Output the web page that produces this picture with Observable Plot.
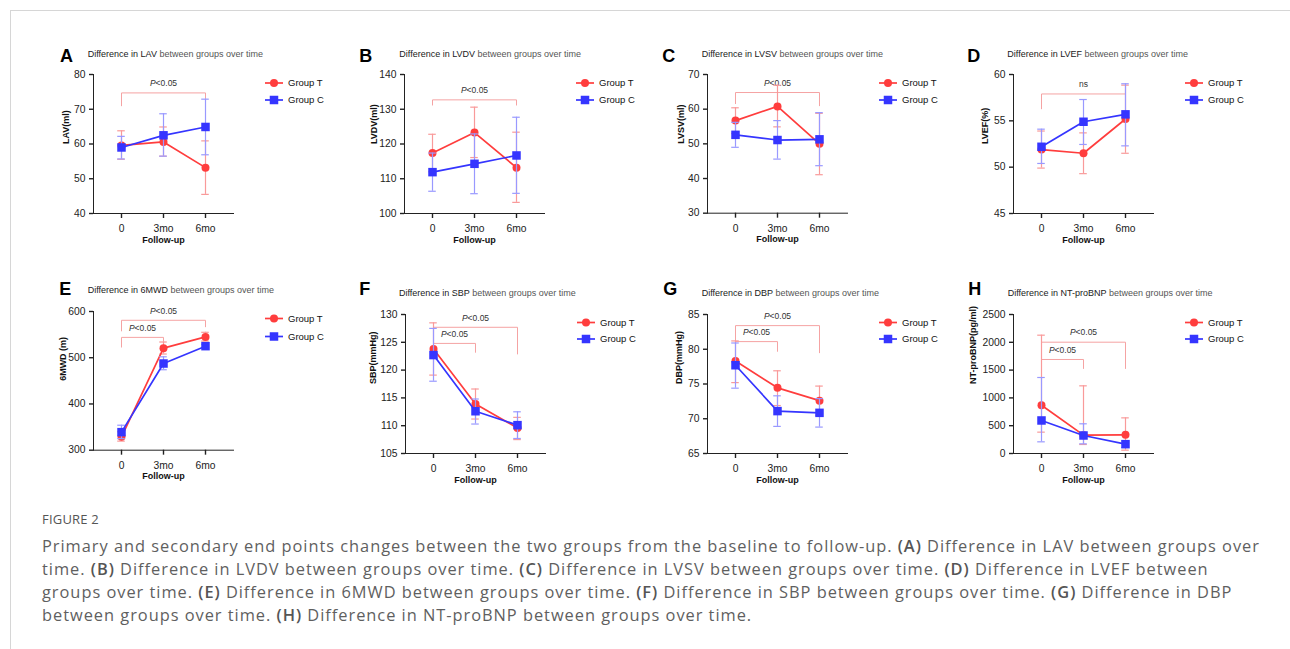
<!DOCTYPE html>
<html><head><meta charset="utf-8">
<script src="https://cdn.jsdelivr.net/npm/d3@7"></script>
<script src="https://cdn.jsdelivr.net/npm/@observablehq/plot@0.6"></script>
<style>
html,body{margin:0;padding:0;background:#fff;}
body{width:1290px;height:649px;overflow:hidden;position:relative;font-family:"Liberation Sans",Arial,sans-serif;}
#frame{position:absolute;left:10px;top:10px;width:1400px;height:800px;border:1px solid #d6d6d6;}
.abs{position:absolute;white-space:nowrap;line-height:1;}
.letter{font-weight:bold;font-size:18px;color:#000;}
.sub{font-size:9px;color:#555;}
.sub span{color:#1a1a1a;}
.panel{position:absolute;}
.panel svg{overflow:visible;}
.legend{position:absolute;}
#fighead{font-family:"Open Sans",sans-serif;font-size:13px;color:#555;letter-spacing:0.2px;}
#caption{font-family:"Open Sans",sans-serif;font-size:16.4px;color:#5f5f5f;line-height:23px;}
#caption b{font-weight:600;color:#555;}
#caption .ln{display:inline-block;}
</style></head>
<body>
<div id="frame"></div>
<div id="root"></div>
<div id="fighead" class="abs" style="left:42px;top:513px;">FIGURE 2</div>
<div id="caption" class="abs" style="left:42px;top:534px;">
<span class="ln">Primary and secondary end points changes between the two groups from the baseline to follow-up. <b>(A)</b> Difference in LAV between groups over</span><br>
<span class="ln">time. <b>(B)</b> Difference in LVDV between groups over time. <b>(C)</b> Difference in LVSV between groups over time. <b>(D)</b> Difference in LVEF between</span><br>
<span class="ln">groups over time. <b>(E)</b> Difference in 6MWD between groups over time. <b>(F)</b> Difference in SBP between groups over time. <b>(G)</b> Difference in DBP</span><br>
<span class="ln">between groups over time. <b>(H)</b> Difference in NT-proBNP between groups over time.</span>
</div>
<script>
// ---------- DATA ----------
const categories = ["0", "3mo", "6mo"];
const groups = ["Group T", "Group C"];
const xLabel = "Follow-up";
// each row: [mean, lower error, upper error] at 0, 3mo, 6mo
// A: LAV
const lavT = [[59.6, 55.6, 63.8], [60.6, 56.5, 64.9], [53.2, 45.5, 60.9]];
const lavC = [[59.0, 55.7, 62.2], [62.5, 56.5, 68.7], [64.9, 56.9, 72.9]];
const lavTicks = [40, 50, 60, 70, 80];
// bracket: [from, to, level, left end, right end, label]
const lavBr = [[0, 2, 74.7, 71.0, 73.1, "P<0.05"]];
// B: LVDV
const lvdvT = [[117.4, 112.0, 122.8], [123.3, 116.1, 130.6], [113.2, 103.2, 123.4]];
const lvdvC = [[111.9, 106.4, 117.4], [114.3, 105.7, 122.9], [116.7, 105.8, 127.7]];
const lvdvTicks = [100, 110, 120, 130, 140];
const lvdvBr = [[0, 2, 132.7, 131.2, 131.2, "P<0.05"]];
// C: LVSV
const lvsvT = [[56.7, 53.0, 60.4], [60.8, 54.9, 66.9], [50.0, 41.1, 58.8]];
const lvsvC = [[52.6, 49.0, 56.2], [51.1, 45.6, 56.7], [51.3, 43.7, 59.0]];
const lvsvTicks = [30, 40, 50, 60, 70];
const lvsvBr = [[0, 2, 64.8, 61.6, 61.0, "P<0.05"]];
// D: LVEF
const lvefT = [[51.9, 49.9, 53.9], [51.5, 49.3, 53.7], [55.2, 51.5, 58.85]];
const lvefC = [[52.2, 50.4, 54.1], [54.9, 52.45, 57.3], [55.7, 52.3, 59.0]];
const lvefTicks = [45, 50, 55, 60];
const lvefBr = [[0, 2, 57.9, 56.3, 57.4, "ns"]];
// E: 6MWD
const mwdT = [[329, 319.6, 340], [520.7, 508, 534], [545, 536, 555]];
const mwdC = [[339, 325, 354], [487.5, 474, 502], [525, 521, 529]];
const mwdTicks = [300, 400, 500, 600];
const mwdBr = [[0, 2, 581, 558, 567, "P<0.05"], [0, 1, 544, 523, 536, "P<0.05"]];
// F: SBP
const sbpT = [[123.8, 119.1, 128.5], [113.9, 111.2, 116.6], [109.6, 107.5, 111.5]];
const sbpC = [[122.7, 118.0, 127.5], [112.6, 110.3, 114.8], [110.1, 107.7, 112.5]];
const sbpTicks = [105, 110, 115, 120, 125, 130];
const sbpBr = [[0, 2, 127.7, 124.8, 122.9, "P<0.05"], [0, 1, 124.8, 124.3, 123.2, "P<0.05"]];
// G: DBP
const dbpT = [[78.3, 75.2, 81.2], [74.45, 71.9, 76.9], [72.6, 70.5, 74.7]];
const dbpC = [[77.7, 74.4, 80.9], [71.1, 68.9, 73.3], [70.85, 68.8, 72.9]];
const dbpTicks = [65, 70, 75, 80, 85];
const dbpBr = [[0, 2, 83.4, 81.1, 79.5, "P<0.05"], [0, 1, 81.1, 80.5, 79.7, "P<0.05"]];
// H: NT-proBNP
const bnpT = [[869, 384, 2128], [330, 162, 1217], [336, 60, 641]];
const bnpC = [[594, 210, 1367], [324, 174, 534], [168, 108, 228]];
const bnpTicks = [0, 500, 1000, 1500, 2000, 2500];
const bnpBr = [[0, 2, 2002, 1900, 1529, "P<0.05"], [0, 1, 1691, 1600, 1529, "P<0.05"]];

// ---------- LAYOUT / STYLE ----------
const RED = "#ff3d3d", BLUE = "#3535ff";
const RED_ERR = "#f99a9a", BLUE_ERR = "#9999ff", BR_COL = "#f5a3a3";
const panels = [
  {letter:"A", m:"LAV", yl:"LAV(ml)", T:lavT, C:lavC, ticks:lavTicks, br:lavBr, x0:93, y0:74.3, h:139, ylo:27, lx:60, lb:62, sx:87.7, sb:57.3, lg:[9,26]},
  {letter:"B", m:"LVDV", yl:"LVDV(ml)", T:lvdvT, C:lvdvC, ticks:lvdvTicks, br:lvdvBr, x0:404, y0:74.3, h:139, ylo:30, lx:359.3, lb:62, sx:399.3, sb:57.3, lg:[9,26]},
  {letter:"C", m:"LVSV", yl:"LVSV(ml)", T:lvsvT, C:lvsvC, ticks:lvsvTicks, br:lvsvBr, x0:706.7, y0:74.3, h:138.7, ylo:26.7, lx:662.3, lb:62, sx:701.7, sb:57.3, lg:[9,26]},
  {letter:"D", m:"LVEF", yl:"LVEF(%)", T:lvefT, C:lvefC, ticks:lvefTicks, br:lvefBr, x0:1012.5, y0:74.3, h:139, ylo:28, lx:967.3, lb:62, sx:1007.3, sb:57.3, lg:[9,26]},
  {letter:"E", m:"6MWD", yl:"6MWD (m)", T:mwdT, C:mwdC, ticks:mwdTicks, br:mwdBr, x0:93, y0:311, h:138.7, ylo:30, lx:59.3, lb:295, sx:87.7, sb:293.5, lg:[7.5,25.5]},
  {letter:"F", m:"SBP", yl:"SBP(mmHg)", T:sbpT, C:sbpC, ticks:sbpTicks, br:sbpBr, x0:405, y0:314.3, h:139, ylo:32, lx:359.3, lb:295, sx:399, sb:297, lg:[8.5,25]},
  {letter:"G", m:"DBP", yl:"DBP(mmHg)", T:dbpT, C:dbpC, ticks:dbpTicks, br:dbpBr, x0:706.7, y0:314.3, h:139, ylo:28, lx:663.3, lb:295, sx:701.7, sb:296.5, lg:[8.5,25]},
  {letter:"H", m:"NT-proBNP", yl:"NT-proBNP(pg/ml)", T:bnpT, C:bnpC, ticks:bnpTicks, br:bnpBr, x0:1012.7, y0:314.3, h:139, ylo:40, lx:968.3, lb:295, sx:1007.7, sb:296.5, lg:[8.5,25]}
];

const ML = 55, MR = 20, MT = 30, MB = 40, XR = 140;
const root = document.getElementById("root");

function toRows(arr, g) { return arr.map((v, i) => ({g, i, m: v[0], lo: v[1], hi: v[2]})); }

function seriesMarks(rows, col, err, symbol, r) {
  const cap = 0.09;
  return [
    Plot.ruleX(rows, {x: "i", y1: "lo", y2: "hi", stroke: err, strokeWidth: 1.2}),
    Plot.ruleY(rows, {y: "lo", x1: d => d.i - cap, x2: d => d.i + cap, stroke: err, strokeWidth: 1.2}),
    Plot.ruleY(rows, {y: "hi", x1: d => d.i - cap, x2: d => d.i + cap, stroke: err, strokeWidth: 1.2}),
    Plot.line(rows, {x: "i", y: "m", stroke: col, strokeWidth: 1.7}),
    Plot.dot(rows, {x: "i", y: "m", fill: col, r, symbol})
  ];
}

panels.forEach(p => {
  const tRows = toRows(p.T, groups[0]);
  const cRows = toRows(p.C, groups[1]);
  const brPts = [];
  p.br.forEach((b, k) => {
    brPts.push({k, x: b[0], y: b[3]}, {k, x: b[0], y: b[2]}, {k, x: b[1], y: b[2]}, {k, x: b[1], y: b[4]});
  });
  const plot = Plot.plot({
    width: ML + XR + MR, height: MT + p.h + MB,
    marginLeft: ML, marginRight: MR, marginTop: MT, marginBottom: MB,
    style: {background: "transparent", overflow: "visible", fontSize: "10.3px", fontFamily: "'Liberation Sans', Arial, sans-serif", color: "#222"},
    x: {domain: [-2/3, 2 + 2/3], ticks: [0, 1, 2], tickFormat: i => categories[i], tickSize: 5, tickPadding: 6, line: true, label: null},
    y: {domain: [p.ticks[0], p.ticks[p.ticks.length - 1]], ticks: p.ticks, tickFormat: d => String(d), tickSize: 4, tickPadding: 4, line: true, label: null},
    marks: [
      Plot.line(brPts, {x: "x", y: "y", z: "k", stroke: BR_COL, strokeWidth: 1}),
      Plot.text(p.br, {x: b => (b[0] + b[1]) / 2, y: b => b[2], text: b => b[5], dy: -9.5, fontSize: 8.5, fill: "#333"}),
      ...seriesMarks(tRows, RED, RED_ERR, "circle", 4),
      ...seriesMarks(cRows, BLUE, BLUE_ERR, "square", 4.8),
      Plot.text([p.yl], {frameAnchor: "left", rotate: -90, dx: -p.ylo, text: d => d, fontWeight: "bold", fontSize: 9, fill: "#111"}),
      Plot.text([xLabel], {frameAnchor: "bottom", dy: 29, text: d => d, fontWeight: "bold", fontSize: 9, fill: "#111"})
    ]
  });
  d3.select(plot).selectAll('g[aria-label^="x-axis"] path, g[aria-label^="y-axis"] path, g[aria-label^="x-axis"] line, g[aria-label^="y-axis"] line')
    .attr("stroke-width", 1.4);
  d3.select(plot).selectAll("text").each(function() {
    const t = this.textContent;
    if (t === "P<0.05") {
      const s = d3.select(this); s.text("");
      s.append("tspan").attr("font-style", "italic").text("P");
      s.append("tspan").text("<0.05");
    }
  });
  const wrap = document.createElement("div");
  wrap.className = "panel";
  wrap.style.left = (p.x0 - ML) + "px";
  wrap.style.top = (p.y0 - MT) + "px";
  wrap.appendChild(plot);
  root.appendChild(wrap);

  const L = document.createElement("div");
  L.className = "abs letter"; L.textContent = p.letter;
  L.style.left = p.lx + "px"; L.style.top = (p.lb - 0.8465 * 18) + "px";
  root.appendChild(L);
  const S = document.createElement("div");
  S.className = "abs sub";
  S.innerHTML = "<span>Difference in " + p.m + "</span> between groups over time";
  S.style.left = p.sx + "px"; S.style.top = (p.sb - 0.8465 * 9) + "px";
  root.appendChild(S);

  const lg = document.createElement("div");
  lg.className = "legend";
  lg.style.left = (p.x0 + 168) + "px"; lg.style.top = p.y0 + "px";
  const y1 = p.lg[0], y2 = p.lg[1];
  lg.innerHTML = `<svg width="90" height="40" style="overflow:visible;font-family:'Liberation Sans',Arial,sans-serif;font-size:9.5px">
    <line x1="4" x2="22" y1="${y1}" y2="${y1}" stroke="${RED}" stroke-width="1.7"/>
    <circle cx="13" cy="${y1}" r="4" fill="${RED}"/>
    <text x="27" y="${y1}" dy="0.35em" fill="#111">${groups[0]}</text>
    <line x1="4" x2="22" y1="${y2}" y2="${y2}" stroke="${BLUE}" stroke-width="1.7"/>
    <rect x="8.75" y="${y2 - 4.25}" width="8.5" height="8.5" fill="${BLUE}"/>
    <text x="27" y="${y2}" dy="0.35em" fill="#111">${groups[1]}</text></svg>`;
  root.appendChild(lg);
});

(function fit() {
  const lines = document.querySelectorAll("#caption .ln");
  const first = lines[0];
  const w = first.getBoundingClientRect().width;
  const n = first.textContent.length;
  const ls = (1218 - w) / n;
  document.getElementById("caption").style.letterSpacing = ls.toFixed(3) + "px";
})();
</script>
</body></html>
